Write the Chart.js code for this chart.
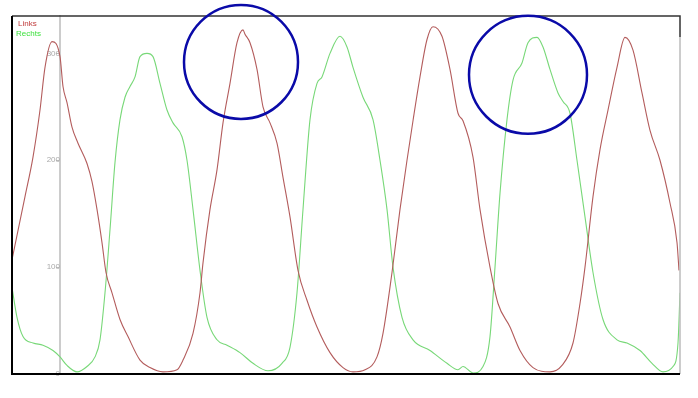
<!DOCTYPE html>
<html>
<head>
<meta charset="utf-8">
<script src="https://cdn.jsdelivr.net/npm/chart.js@4"></script>
<style>
    body { margin: 0; background: #fff; }
    #wrap { width: 698px; height: 398px; }
</style>
</head>
<body>
<div id="wrap"><canvas id="chart" width="698" height="398"></canvas></div>
<script>
// ================== Data ==================
// sample position along the recording
const linksX = [0, 13, 21, 28, 33, 40, 48, 51, 55, 60, 66, 75, 80, 85, 90, 94, 100, 108, 116, 128, 138, 151, 165, 171, 181, 188, 191, 198, 205, 211, 218, 225, 231, 233, 238, 245, 251, 258, 265, 271, 278, 286, 295, 305, 318, 331, 341, 353, 365, 371, 380, 388, 395, 401, 408, 415, 421, 430, 438, 446, 451, 461, 468, 478, 486, 498, 508, 521, 538, 550, 561, 568, 573, 581, 588, 596, 605, 613, 621, 630, 638, 648, 658, 665, 667];
const linksY = [107, 166, 203, 247, 287, 311, 297, 269, 254, 231, 216, 197, 180, 154, 123, 95, 76, 51, 35, 13, 6, 2, 4, 13, 38, 76, 104, 154, 191, 235, 272, 310, 322, 318, 310, 285, 250, 235, 216, 184, 147, 97, 69, 44, 20, 6, 2, 4, 16, 38, 95, 154, 200, 237, 278, 313, 325, 316, 285, 244, 237, 203, 154, 100, 66, 44, 22, 6, 2, 8, 29, 66, 100, 166, 210, 247, 287, 315, 303, 263, 228, 200, 160, 123, 97];

const rechtsX = [0, 5, 11, 21, 31, 41, 48, 55, 65, 75, 83, 88, 93, 98, 103, 108, 113, 118, 123, 128, 135, 141, 148, 155, 161, 170, 175, 181, 188, 195, 205, 215, 228, 241, 256, 270, 278, 285, 291, 298, 305, 310, 318, 328, 335, 341, 351, 361, 368, 375, 381, 390, 401, 418, 435, 446, 451, 461, 471, 478, 483, 488, 495, 501, 510, 516, 525, 531, 538, 546, 551, 558, 565, 573, 581, 591, 605, 615, 628, 640, 651, 661, 666, 668];
const rechtsY = [81, 53, 35, 29, 27, 22, 16, 8, 2, 7, 16, 32, 76, 135, 198, 238, 259, 269, 278, 297, 300, 297, 272, 247, 235, 222, 200, 154, 97, 53, 32, 27, 20, 10, 3, 10, 25, 76, 154, 238, 272, 278, 300, 316, 306, 287, 259, 238, 200, 154, 100, 53, 32, 22, 10, 4, 7, 1, 7, 35, 100, 169, 238, 275, 291, 310, 315, 306, 285, 263, 255, 244, 200, 147, 95, 51, 32, 29, 22, 10, 2, 7, 29, 76];

const seriesNames = ['Links', 'Rechts'];
const seriesColors = ['#b35c5c', '#78d878'];

const yTicks = [0, 100, 200, 300];

// blue marker rings: centre (sample, value), radius in samples
const ringX = [229, 516];
const ringY = [292, 280];
const ringR = [57, 59];

// ================== Plugins ==================
const framePlugin = {
    id: 'frame',
    afterDraw(chart) {
        const { ctx, chartArea: a, scales } = chart;
        ctx.save();
        // frame
        ctx.lineWidth = 1.5;
        ctx.strokeStyle = '#333';
        ctx.beginPath();
        ctx.moveTo(a.left, a.top); ctx.lineTo(a.right, a.top); ctx.lineTo(a.right, a.top + 21);
        ctx.stroke();
        ctx.strokeStyle = '#bbb';
        ctx.beginPath();
        ctx.moveTo(a.right, a.top + 21); ctx.lineTo(a.right, a.bottom);
        ctx.stroke();
        ctx.lineWidth = 2;
        ctx.strokeStyle = '#000';
        ctx.beginPath();
        ctx.moveTo(a.left, a.top); ctx.lineTo(a.left, a.bottom); ctx.lineTo(a.right, a.bottom);
        ctx.stroke();

        // legend text
        ctx.font = '8px "Liberation Sans", Arial, sans-serif';
        ctx.textBaseline = 'middle';
        chart.data.datasets.forEach((ds, i) => {
            ctx.fillStyle = i === 0 ? '#c03c3c' : '#3ee03e';
            ctx.fillText(ds.label, a.left + 6 - i * 2, a.top + 8 + i * 10);
        });

        // rings
        ctx.strokeStyle = '#0a0aa8';
        ctx.lineWidth = 2.5;
        ringX.forEach((x, i) => {
            const cx = scales.x.getPixelForValue(x);
            const cy = scales.y.getPixelForValue(ringY[i]);
            const r = scales.x.getPixelForValue(x + ringR[i]) - cx;
            ctx.beginPath();
            ctx.arc(cx, cy, r, 0, Math.PI * 2);
            ctx.stroke();
        });
        ctx.restore();
    }
};

// ================== Chart ==================
const toPoints = (xs, ys) => xs.map((x, i) => ({ x: x, y: ys[i] }));

new Chart(document.getElementById('chart'), {
    type: 'line',
    data: {
        datasets: [
            {
                label: seriesNames[0],
                data: toPoints(linksX, linksY),
                borderColor: seriesColors[0],
                borderWidth: 1.1,
                pointRadius: 0,
                cubicInterpolationMode: 'monotone'
            },
            {
                label: seriesNames[1],
                data: toPoints(rechtsX, rechtsY),
                borderColor: seriesColors[1],
                borderWidth: 1.1,
                pointRadius: 0,
                cubicInterpolationMode: 'monotone'
            }
        ]
    },
    options: {
        responsive: false,
        animation: false,
        layout: { padding: { left: 12, top: 16, right: 18, bottom: 24 } },
        plugins: { legend: { display: false }, tooltip: { enabled: false } },
        scales: {
            x: { type: 'linear', min: 0, max: 668, display: false },
            y: {
                min: 0,
                max: 335,
                position: { x: 48 },
                afterBuildTicks: s => { s.ticks = yTicks.map(v => ({ value: v })); },
                grid: { drawOnChartArea: false, drawTicks: true, tickLength: 3, color: '#bbb' },
                border: { color: '#ccc', width: 2 },
                ticks: {
                    color: '#aaa',
                    padding: 3,
                    font: { size: 8, family: '"Liberation Sans", Arial, sans-serif' }
                }
            }
        }
    },
    plugins: [framePlugin]
});
</script>
</body>
</html>
